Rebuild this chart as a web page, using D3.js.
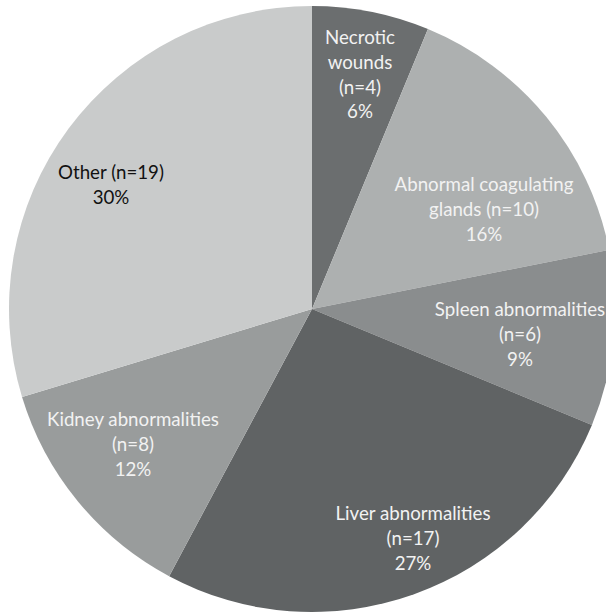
<!DOCTYPE html>
<html><head><meta charset="utf-8">
<script src="https://cdn.jsdelivr.net/npm/d3@7"></script>
<style>html,body{margin:0;padding:0;background:#fff;overflow:hidden}</style>
</head><body>
<svg id="chart" width="606" height="613"></svg>
<script>
const categories = ["Necrotic wounds","Abnormal coagulating glands","Spleen abnormalities","Liver abnormalities","Kidney abnormalities","Other"];
const counts = [4, 10, 6, 17, 8, 19];
const percents = ["6%","16%","9%","27%","12%","30%"];
const labelLines = [
  ["Necrotic","wounds","(n=4)","6%"],
  ["Abnormal coagulating","glands (n=10)","16%"],
  ["Spleen abnormalities","(n=6)","9%"],
  ["Liver abnormalities","(n=17)","27%"],
  ["Kidney abnormalities","(n=8)","12%"],
  ["Other (n=19)","30%"]
];
const colors = ["#6b6e6f","#adb0b0","#8a8d8e","#606364","#999c9c","#c9cbcb"];
const textColors = ["#f2f2f2","#f2f2f2","#f2f2f2","#f2f2f2","#f2f2f2","#111111"];
// label anchor (center of first line), layout only
const labelAnchor = [[360,37],[484,184],[520,309],[413,513],[133,419],[111,172]];

const cx = 312, cy = 309, R = 303, lineH = 24.8;
const svg = d3.select("#chart");
const g = svg.append("g").attr("transform", `translate(${cx},${cy})`);
const pie = d3.pie().sort(null).value(d => d)(counts);
const arc = d3.arc().innerRadius(0).outerRadius(R);
g.selectAll("path").data(pie).enter().append("path")
  .attr("d", arc).attr("fill", (d,i) => colors[i]);

const font = "Lato, 'Open Sans', sans-serif";
// fit font size so "Kidney abnormalities" ≈ 172px
const probe = svg.append("text").attr("font-family", font).attr("font-size", 20).text("Kidney abnormalities");
const w = probe.node().getComputedTextLength();
probe.remove();
const fs = 20 * 172 / w;

labelLines.forEach((lines, i) => {
  const t = svg.append("text").attr("font-family", font).attr("font-size", fs)
    .attr("fill", textColors[i]).attr("text-anchor", "middle");
  lines.forEach((ln, j) => {
    t.append("tspan").attr("x", labelAnchor[i][0]).attr("y", labelAnchor[i][1] + j*lineH)
      .attr("dominant-baseline", "central").text(ln);
  });
});
</script>
</body></html>
